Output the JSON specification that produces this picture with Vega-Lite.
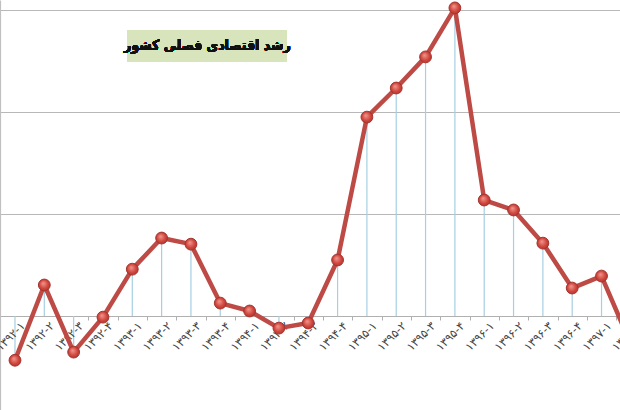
{
  "$schema": "https://vega.github.io/schema/vega-lite/v6.json",
  "width": 620,
  "height": 410,
  "padding": 0,
  "autosize": {"type": "none"},
  "background": "white",
  "config": {"view": {"stroke": null}},
  "data": {"values": [
    {"i": 0, "q": "۱۳۹۲-۱", "v": -1.73},
    {"i": 1, "q": "۱۳۹۲-۲", "v": 1.22},
    {"i": 2, "q": "۱۳۹۲-۳", "v": -1.41},
    {"i": 3, "q": "۱۳۹۲-۴", "v": -0.04},
    {"i": 4, "q": "۱۳۹۳-۱", "v": 1.84},
    {"i": 5, "q": "۱۳۹۳-۲", "v": 3.06},
    {"i": 6, "q": "۱۳۹۳-۳", "v": 2.82},
    {"i": 7, "q": "۱۳۹۳-۴", "v": 0.51},
    {"i": 8, "q": "۱۳۹۴-۱", "v": 0.2},
    {"i": 9, "q": "۱۳۹۴-۲", "v": -0.47},
    {"i": 10, "q": "۱۳۹۴-۳", "v": -0.27},
    {"i": 11, "q": "۱۳۹۴-۴", "v": 2.2},
    {"i": 12, "q": "۱۳۹۵-۱", "v": 7.8},
    {"i": 13, "q": "۱۳۹۵-۲", "v": 8.94},
    {"i": 14, "q": "۱۳۹۵-۳", "v": 10.16},
    {"i": 15, "q": "۱۳۹۵-۴", "v": 12.08},
    {"i": 16, "q": "۱۳۹۶-۱", "v": 4.55},
    {"i": 17, "q": "۱۳۹۶-۲", "v": 4.16},
    {"i": 18, "q": "۱۳۹۶-۳", "v": 2.86},
    {"i": 19, "q": "۱۳۹۶-۴", "v": 1.1},
    {"i": 20, "q": "۱۳۹۷-۱", "v": 1.57},
    {"i": 21, "q": "۱۳۹۷-۲", "v": -1.1}
  ]},
  "encoding": {
    "x": {"field": "i", "type": "quantitative",
      "scale": {"domain": [-0.511, 20.63], "nice": false, "zero": false},
      "axis": {"orient": "bottom", "offset": -94, "title": null, "labels": false, "grid": false,
        "values": [-0.5, 0.5, 1.5, 2.5, 3.5, 4.5, 5.5, 6.5, 7.5, 8.5, 9.5, 10.5, 11.5, 12.5, 13.5, 14.5, 15.5, 16.5, 17.5, 18.5, 19.5, 20.5],
        "tickSize": 4, "tickColor": "#b0b0b0", "domainColor": "#b0b0b0", "domainWidth": 1}},
    "y": {"field": "v", "type": "quantitative",
      "scale": {"domain": [-3.68, 12.39], "nice": false, "zero": false},
      "axis": {"title": null, "labels": false, "ticks": false, "values": [0, 4, 8, 12],
        "grid": true, "gridColor": "#b8b8b8", "gridWidth": 1.2, "domain": true, "domainColor": "#c0c0c0", "domainWidth": 1.2}}
  },
  "layer": [
    {
      "mark": {"type": "rect", "fill": "#d8e4bc"},
      "encoding": {
        "x": {"datum": 3.85, "type": "quantitative"},
        "x2": {"datum": 9.27},
        "y": {"datum": 11.21, "type": "quantitative"},
        "y2": {"datum": 9.96}
      }
    },
    {
      "mark": {"type": "text", "font": "DejaVu Sans Condensed", "fontWeight": "bold", "fontSize": 14, "color": "#111", "align": "center", "baseline": "middle"},
      "encoding": {
        "x": {"datum": 6.56, "type": "quantitative"},
        "y": {"datum": 10.6, "type": "quantitative"},
        "text": {"value": "رشد اقتصادی فصلی کشور"}
      }
    },
    {
      "mark": {"type": "rule", "color": "#a6cfe2", "strokeWidth": 1.2, "clip": true},
      "encoding": {"y2": {"datum": 0}}
    },
    {
      "mark": {"type": "text", "font": "DejaVu Sans", "fontSize": 11.5, "color": "#444", "align": "right", "baseline": "middle", "angle": -45, "dx": 0, "dy": 12},
      "encoding": {
        "y": {"datum": 0, "type": "quantitative"},
        "text": {"field": "q"}
      }
    },
    {
      "mark": {"type": "line", "color": "#bd4a45", "strokeWidth": 4.5, "clip": true, "strokeJoin": "round"},
      "encoding": {}
    },
    {
      "mark": {"type": "point", "shape": "circle", "filled": true, "size": 140, "opacity": 1, "clip": true,
        "fill": {"gradient": "radial", "x1": 0.4, "y1": 0.35, "r1": 0, "x2": 0.5, "y2": 0.5, "r2": 0.6,
          "stops": [{"offset": 0, "color": "#f2998f"}, {"offset": 0.6, "color": "#d0463d"}, {"offset": 1, "color": "#a8302a"}]},
        "stroke": "#a5352f", "strokeWidth": 1},
      "encoding": {}
    }
  ]
}
